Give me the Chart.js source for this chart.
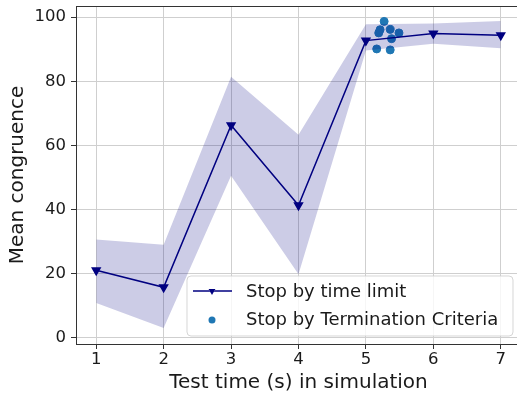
<!DOCTYPE html>
<html>
<head>
<meta charset="utf-8">
<script src="https://cdn.jsdelivr.net/npm/chart.js@4"></script>
<style>
  html, body { margin: 0; padding: 0; background: #fff; overflow: hidden; }
  #chart { display: block; }
</style>
</head>
<body>
<canvas id="chart" width="527" height="398"></canvas>
<script>
// test times (x) and the "stop by time limit" series
const testTimes = [1, 2, 3, 4, 5, 6, 7];
const meanLimit = [21.0, 15.7, 66.3, 41.3, 92.7, 94.9, 94.4];
const upperLimit = [30.6, 29.0, 81.4, 63.3, 97.8, 98.0, 98.8];
const lowerLimit = [10.8, 3.0, 50.5, 19.8, 89.6, 91.7, 90.3];

// "stop by termination criteria" runs
const termTimes = [5.27, 5.21, 5.19, 5.36, 5.49, 5.38, 5.16, 5.36];
const termScores = [98.7, 96.1, 95.1, 96.2, 95.1, 93.3, 90.1, 89.8];

const xTickLabels = [1, 2, 3, 4, 5, 6, 7];
const yTickLabels = [0, 20, 40, 60, 80, 100];

const NAVY = '#000080';
const FONT = "'DejaVu Sans', sans-serif";
const TEXT = '#1a1a1a';

function pts(xs, ys) {
    return xs.map(function (x, i) { return { x: x, y: ys[i] }; });
}

// spines round the plot area
const framePlugin = {
    id: 'frame',
    afterDatasetsDraw: function (chart) {
        const a = chart.chartArea, ctx = chart.ctx;
        ctx.save();
        ctx.strokeStyle = '#333';
        ctx.lineWidth = 1;
        ctx.strokeRect(a.left + 0.5, a.top + 0.5, a.right - a.left, a.bottom - a.top);
        ctx.restore();
    }
};

// matplotlib-like legend in the lower right of the axes
const legendPlugin = {
    id: 'mplLegend',
    afterDraw: function (chart) {
        const ctx = chart.ctx;
        const lineSet = chart.data.datasets[2];
        const dotSet = chart.data.datasets[3];
        const x0 = 187, y0 = 276, w = 326, h = 60, r = 4;
        ctx.save();
        ctx.beginPath();
        ctx.moveTo(x0 + r, y0);
        ctx.arcTo(x0 + w, y0, x0 + w, y0 + h, r);
        ctx.arcTo(x0 + w, y0 + h, x0, y0 + h, r);
        ctx.arcTo(x0, y0 + h, x0, y0, r);
        ctx.arcTo(x0, y0, x0 + w, y0, r);
        ctx.closePath();
        ctx.fillStyle = 'rgba(255,255,255,0.8)';
        ctx.fill();
        ctx.strokeStyle = 'rgba(204,204,204,0.8)';
        ctx.lineWidth = 1;
        ctx.stroke();

        // line entry
        ctx.strokeStyle = NAVY;
        ctx.lineWidth = 1.5;
        ctx.beginPath();
        ctx.moveTo(193, 291);
        ctx.lineTo(232, 291);
        ctx.stroke();
        Chart.helpers.drawPoint(ctx, { pointStyle: 'triangle', rotation: 180, radius: 4 }, 212, 291);
        ctx.fillStyle = NAVY;
        ctx.fill();

        // scatter entry
        ctx.fillStyle = '#1f77b4';
        ctx.beginPath();
        ctx.arc(212, 320, 3.5, 0, Math.PI * 2);
        ctx.fill();

        ctx.fillStyle = TEXT;
        ctx.font = '18px ' + FONT;
        ctx.textBaseline = 'middle';
        ctx.textAlign = 'left';
        ctx.fillText(lineSet.label, 246, 292);
        ctx.fillText(dotSet.label, 246, 320);
        ctx.restore();
    }
};

new Chart(document.getElementById('chart'), {
    type: 'line',
    data: {
        datasets: [
            {
                label: 'upper',
                data: pts(testTimes, upperLimit),
                borderWidth: 0,
                pointRadius: 0,
                backgroundColor: 'rgba(0,0,128,0.2)',
                fill: '+1',
                tension: 0
            },
            {
                label: 'lower',
                data: pts(testTimes, lowerLimit),
                borderWidth: 0,
                pointRadius: 0,
                fill: false,
                tension: 0
            },
            {
                label: 'Stop by time limit',
                data: pts(testTimes, meanLimit),
                borderColor: NAVY,
                backgroundColor: NAVY,
                borderWidth: 1.5,
                pointStyle: 'triangle',
                pointRotation: 180,
                pointRadius: 4.5,
                fill: false,
                tension: 0
            },
            {
                type: 'scatter',
                label: 'Stop by Termination Criteria',
                data: pts(termTimes, termScores),
                backgroundColor: '#1f77b4',
                borderColor: '#1f77b4',
                pointRadius: 4
            }
        ]
    },
    options: {
        responsive: false,
        animation: false,
        layout: { padding: { top: 4, right: 1, left: 0, bottom: 0 } },
        plugins: {
            legend: { display: false },
            tooltip: { enabled: false }
        },
        scales: {
            x: {
                type: 'linear',
                min: 0.7,
                max: 7.3,
                afterBuildTicks: function (s) { s.ticks = xTickLabels.map(function (v) { return { value: v }; }); },
                afterFit: function (s) {
                    s.height = 54;
                    s.paddingLeft = 0;
                    s.paddingRight = 0;
                },
                grid: { color: '#cfcfcf', lineWidth: 1, tickColor: '#333', tickLength: 5 },
                border: { display: false },
                ticks: { color: TEXT, font: { family: FONT, size: 16.5 }, padding: 1, maxRotation: 0 },
                title: {
                    display: true,
                    text: 'Test time (s) in simulation',
                    color: TEXT,
                    font: { family: FONT, size: 20 },
                    padding: { top: 0, bottom: 3 }
                }
            },
            y: {
                min: -2,
                max: 103.5,
                afterBuildTicks: function (s) { s.ticks = yTickLabels.map(function (v) { return { value: v }; }); },
                afterFit: function (s) {
                    s.width = 76;
                    s.paddingTop = 0;
                    s.paddingBottom = 0;
                },
                grid: { color: '#cfcfcf', lineWidth: 1, tickColor: '#333', tickLength: 5 },
                border: { display: false },
                ticks: { color: TEXT, font: { family: FONT, size: 16.5 }, padding: 5 },
                title: {
                    display: true,
                    text: 'Mean congruence',
                    color: TEXT,
                    font: { family: FONT, size: 20 },
                    padding: { top: 6, bottom: 0 }
                }
            }
        }
    },
    plugins: [framePlugin, legendPlugin]
});
</script>
</body>
</html>
